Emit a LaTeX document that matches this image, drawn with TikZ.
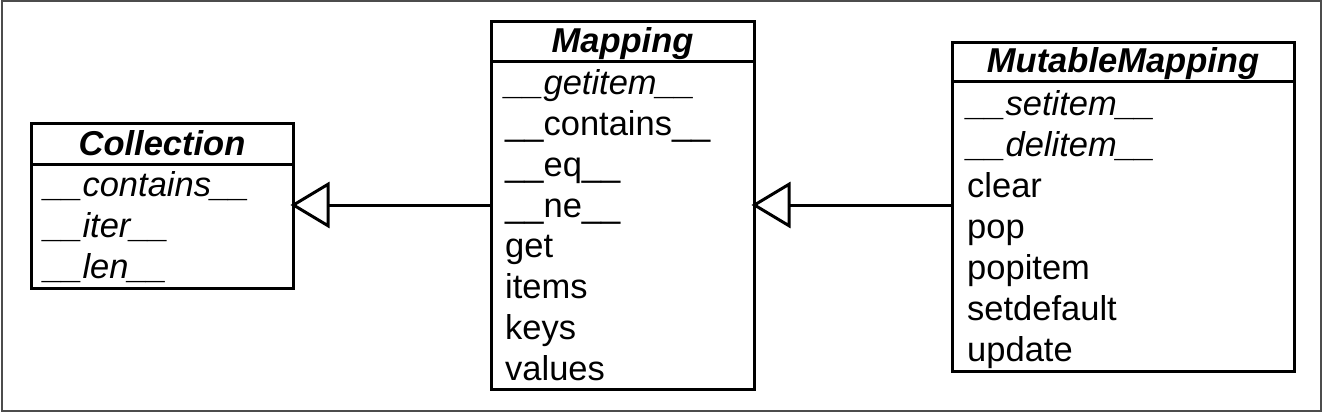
\documentclass[tikz,border=0pt]{standalone}
\usepackage{fontspec}
\setmainfont{Liberation Sans}
\usetikzlibrary{arrows.meta}
\begin{document}
\begin{tikzpicture}[x=1pt,y=1pt,
  classbox/.style={draw, line width=3pt, inner sep=0pt, outer sep=0pt, rectangle},
  hdr/.style={anchor=base, inner sep=0pt, font=\fontsize{34.5}{40}\selectfont\bfseries\itshape},
  mem/.style={anchor=base west, inner sep=0pt, font=\fontsize{34.5}{40}\selectfont},
  amem/.style={mem, font=\fontsize{34.5}{40}\selectfont\itshape},
  inherit/.style={line width=3pt, -{Triangle[open, length=39pt, width=46pt, line width=3pt]}, shorten >=-2.5pt}
]
\useasboundingbox (0,0) rectangle (1323,416);
\draw[line width=1.5pt, draw=black!70] (2,415) rectangle (1321,5);

% Collection
\node[classbox, minimum width=262pt, minimum height=41pt] (colh) at (162,272.5) {};
\node[classbox, minimum width=262pt, minimum height=124pt] (colb) at (162,190) {};
\node[hdr] (colt) at (162,261) {Collection};
\node[amem] (c1) at (44,220) {\_\_contains\_\_};
\node[amem] (c2) at (44,179) {\_\_iter\_\_};
\node[amem] (c3) at (44,138) {\_\_len\_\_};

% Mapping
\node[classbox, minimum width=263pt, minimum height=40pt] (maph) at (622.5,374) {};
\node[classbox, minimum width=263pt, minimum height=327pt] (mapb) at (622.5,190.5) {};
\node[hdr] (mapt) at (622.5,363) {Mapping};
\node[amem] (m1) at (505,321) {\_\_getitem\_\_};
\node[mem] (m2) at (505,280.3) {\_\_contains\_\_};
\node[mem] (m3) at (505,239.6) {\_\_eq\_\_};
\node[mem] (m4) at (505,199) {\_\_ne\_\_};
\node[mem] (m5) at (505,158.2) {get};
\node[mem] (m6) at (505,117.5) {items};
\node[mem] (m7) at (505,76.8) {keys};
\node[mem] (m8) at (505,36) {values};

% MutableMapping
\node[classbox, minimum width=342pt, minimum height=39pt] (mmh) at (1123,353.5) {};
\node[classbox, minimum width=342pt, minimum height=289pt] (mmb) at (1123,189.5) {};
\node[hdr] (mmt) at (1123,343) {MutableMapping};
\node[amem] (u1) at (967,301) {\_\_setitem\_\_};
\node[amem] (u2) at (967,260) {\_\_delitem\_\_};
\node[mem] (u3) at (967,219) {clear};
\node[mem] (u4) at (967,178) {pop};
\node[mem] (u5) at (967,137) {popitem};
\node[mem] (u6) at (967,96) {setdefault};
\node[mem] (u7) at (967,55) {update};

% inheritance
\coordinate (ay) at (0,211);
\draw[inherit] (mapb.west |- ay) -- (colb.east |- ay);
\draw[inherit] (mmb.west |- ay) -- (mapb.east |- ay);
\end{tikzpicture}
\end{document}
